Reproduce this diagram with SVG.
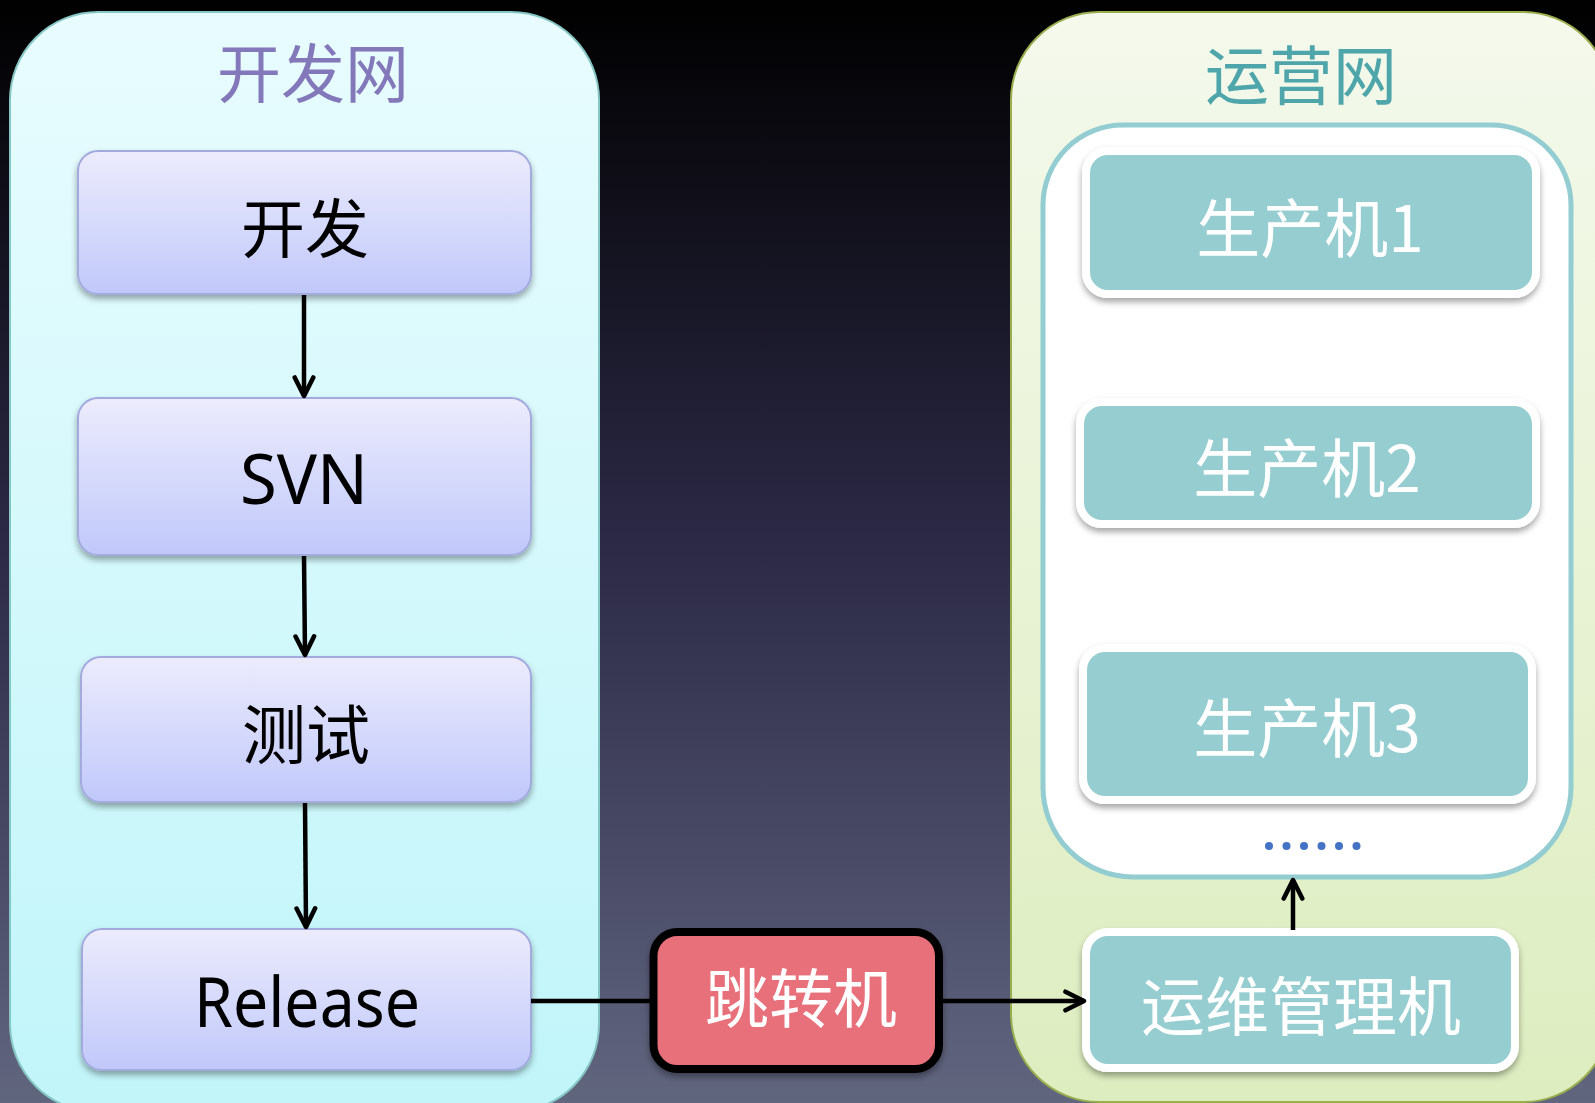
<svg xmlns="http://www.w3.org/2000/svg" width="1595" height="1103" viewBox="0 0 1595 1103">
<defs>
<linearGradient id="bg" x1="0" y1="0" x2="0" y2="1">
<stop offset="0" stop-color="#000000"/>
<stop offset="0.5" stop-color="#2c2a47"/>
<stop offset="1" stop-color="#61667f"/>
</linearGradient>
<linearGradient id="devbg" x1="0" y1="0" x2="0" y2="1">
<stop offset="0" stop-color="#e8fcfe"/>
<stop offset="1" stop-color="#c0f5f9"/>
</linearGradient>
<linearGradient id="opsbg" x1="0" y1="0" x2="0" y2="1">
<stop offset="0" stop-color="#f4f9ec"/>
<stop offset="1" stop-color="#ddedbf"/>
</linearGradient>
<linearGradient id="stepbg" x1="0" y1="0" x2="0" y2="1">
<stop offset="0" stop-color="#ececfc"/>
<stop offset="1" stop-color="#c0c8fa"/>
</linearGradient>
<filter id="sh" x="-10%" y="-10%" width="120%" height="130%">
<feDropShadow dx="0" dy="4" stdDeviation="3" flood-color="#000" flood-opacity="0.35"/>
</filter>
<marker id="arr" viewBox="0 0 12 12" refX="10.5" refY="6" markerWidth="5.5" markerHeight="5.5" orient="auto" markerUnits="strokeWidth">
<path d="M1.5,1.5 L10.5,6 L1.5,10.5" fill="none" stroke="#000" stroke-width="2.2" stroke-linecap="round" stroke-linejoin="round"/>
</marker>
</defs>
<style>
.cjk{font-family:"Noto Sans CJK SC","Noto Sans",sans-serif;text-anchor:middle;font-size:64px}
.lat{font-family:"Noto Sans","Liberation Sans",sans-serif;text-anchor:middle;font-size:70px;fill:#000}
.step{fill:url(#stepbg);stroke:#a3aade;stroke-width:2;filter:url(#sh)}
.prod{fill:#95cdd1;stroke:#ffffff;stroke-width:8;filter:url(#sh)}
.conn{stroke:#000;stroke-width:4.5;fill:none}
</style>
<rect x="0" y="0" width="1595" height="1103" fill="url(#bg)"/>

<g id="dev-net">
<rect x="10" y="12" width="589" height="1100" rx="88" ry="88" fill="url(#devbg)" stroke="#86c6c4" stroke-width="2"/>
<text class="cjk" x="313" y="97" fill="#8378b9">开发网</text>
</g>

<g id="ops-net">
<rect x="1011" y="12" width="600" height="1090" rx="88" ry="88" fill="url(#opsbg)" stroke="#9aae4e" stroke-width="2"/>
<text class="cjk" x="1301" y="99" fill="#4ea6aa">运营网</text>
</g>

<g id="prod-pool">
<path d="M1125,125 L1491,125 A80,80 0 0 1 1571,205 L1571,787 A90,90 0 0 1 1481,877 L1133,877 A90,90 0 0 1 1043,787 L1043,205 A80,80 0 0 1 1123,125 Z" fill="#ffffff" stroke="#93cdd2" stroke-width="5"/>
<g fill="#4472c4">
<circle cx="1269" cy="846" r="4"/>
<circle cx="1286.5" cy="846" r="4"/>
<circle cx="1304" cy="846" r="4"/>
<circle cx="1321.5" cy="846" r="4"/>
<circle cx="1339" cy="846" r="4"/>
<circle cx="1356.5" cy="846" r="4"/>
</g>
</g>

<g id="node-dev">
<rect class="step" x="78" y="151" width="453" height="143" rx="20"/>
<text class="cjk" x="305" y="252" fill="#000">开发</text>
</g>
<g id="node-svn">
<rect class="step" x="78" y="398" width="453" height="157" rx="20"/>
<text class="lat" x="304" y="504" textLength="128" lengthAdjust="spacingAndGlyphs">SVN</text>
</g>
<g id="node-test">
<rect class="step" x="81" y="657" width="450" height="145" rx="20"/>
<text class="cjk" x="306" y="758" fill="#000">测试</text>
</g>
<g id="node-release">
<rect class="step" x="82" y="929" width="449" height="141" rx="20"/>
<text class="lat" x="307" y="1027" textLength="226" lengthAdjust="spacingAndGlyphs">Release</text>
</g>

<g id="node-jump">
<rect x="653.5" y="932" width="285.5" height="137" rx="24" fill="#e8707a" stroke="#000" stroke-width="8" filter="url(#sh)"/>
<text class="cjk" x="801" y="1022" fill="#ffffff">跳转机</text>
</g>

<g id="node-prod1">
<rect class="prod" x="1086" y="151" width="450" height="143" rx="22"/>
<text class="cjk" x="1310" y="252" fill="#ffffff">生产机1</text>
</g>
<g id="node-prod2">
<rect class="prod" x="1080" y="402" width="456" height="122" rx="22"/>
<text class="cjk" x="1307" y="492" fill="#ffffff">生产机2</text>
</g>
<g id="node-prod3">
<rect class="prod" x="1083" y="648" width="449" height="152" rx="22"/>
<text class="cjk" x="1307" y="752" fill="#ffffff">生产机3</text>
</g>
<g id="node-ops">
<rect class="prod" x="1086" y="932" width="429" height="136" rx="22"/>
<text class="cjk" x="1301" y="1030" fill="#ffffff">运维管理机</text>
</g>

<g id="connectors">
<line class="conn" x1="304" y1="295" x2="304" y2="396" marker-end="url(#arr)"/>
<line class="conn" x1="304" y1="556" x2="305" y2="655" marker-end="url(#arr)"/>
<line class="conn" x1="305" y1="803" x2="306" y2="927" marker-end="url(#arr)"/>
<line class="conn" x1="531" y1="1001" x2="650" y2="1001"/>
<line class="conn" x1="943" y1="1001" x2="1084" y2="1001" marker-end="url(#arr)"/>
<line class="conn" x1="1293" y1="930" x2="1293" y2="880" marker-end="url(#arr)"/>
</g>
</svg>
